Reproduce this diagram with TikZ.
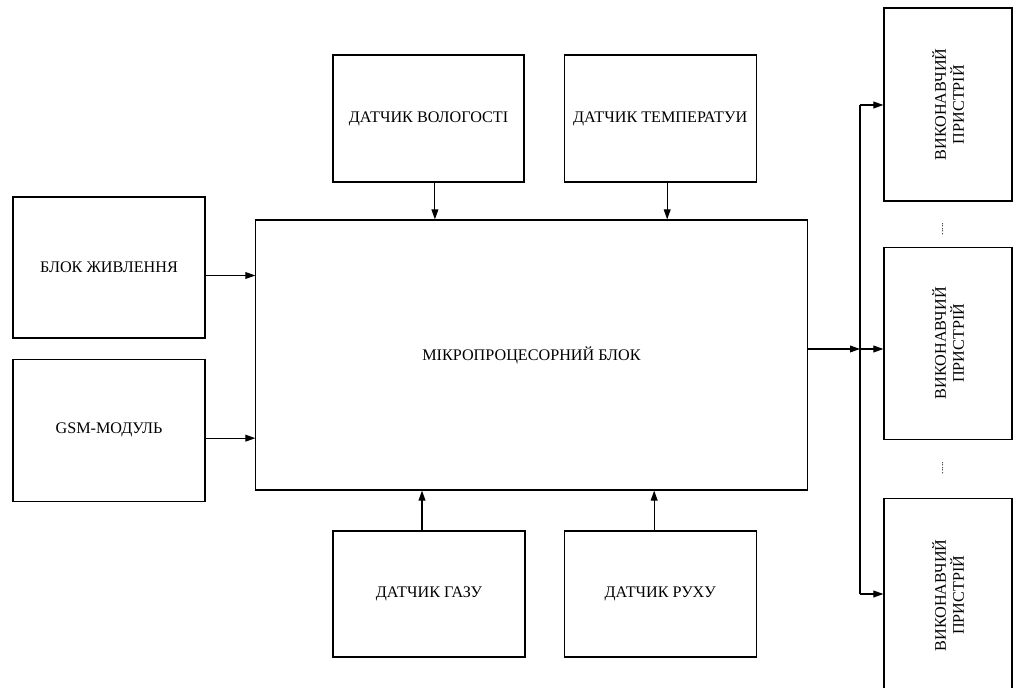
\documentclass[tikz,border=0pt]{standalone}
\usepackage{fontspec}
\setmainfont{Liberation Serif}
\usetikzlibrary{arrows.meta, positioning}

\begin{document}
\begin{tikzpicture}[x=0.025cm, y=-0.025cm,
    every node/.style={font=\fontsize{11.5}{12.8}\selectfont},
    box/.style={draw, rectangle, line width=0.8pt, align=center},
    arr/.style={-{Triangle[length=2.5mm, width=1.7mm]}, line width=0.8pt}]
  \useasboundingbox (0,0) rectangle (1013,688);

  % blocks
  \node (mcu) [box, minimum width=13.775cm, minimum height=6.75cm] at (531.5,355)
  {МІКРОПРОЦЕСОРНИЙ БЛОК};

  \node (power) [box, minimum width=4.8cm, minimum height=3.525cm] at (109,267.5)
  {БЛОК ЖИВЛЕННЯ};

  \node (gsm) [box, below=5mm of power, minimum width=4.8cm, minimum height=3.55cm]
  {GSM-МОДУЛЬ};

  \node (hum) [box, minimum width=4.775cm, minimum height=3.175cm] at (428.5,118.5)
  {ДАТЧИК ВОЛОГОСТІ};

  \node (temp) [box, right=9.75mm of hum, minimum width=4.8cm, minimum height=3.175cm]
  {ДАТЧИК ТЕМПЕРАТУИ};

  \node (gas) [box, minimum width=4.8cm, minimum height=3.15cm] at (429,594)
  {ДАТЧИК ГАЗУ};

  \node (motion) [box, right=9.5mm of gas, minimum width=4.8cm, minimum height=3.15cm]
  {ДАТЧИК РУХУ};

  % actuators
  \node (act1) [box, minimum width=3.2cm, minimum height=4.825cm] at (948,104.5) {};
  \node (act2) [box, below=11.25mm of act1, minimum width=3.2cm, minimum height=4.8cm] {};
  \node (act3) [box, below=14.5mm of act2, minimum width=3.2cm, minimum height=4.85cm] {};

  \node (act1txt) [rotate=90, align=center] at (act1.center) {ВИКОНАВЧИЙ\\ПРИСТРІЙ};
  \node (act2txt) [rotate=90, align=center] at (act2.center) {ВИКОНАВЧИЙ\\ПРИСТРІЙ};
  \node (act3txt) [rotate=90, align=center] at (act3.center) {ВИКОНАВЧИЙ\\ПРИСТРІЙ};

  \node (dots1) [rotate=90, anchor=base, font=\fontsize{7}{8}\selectfont] at (943,229) {.....};
  \node (dots2) [rotate=90, anchor=base, font=\fontsize{7}{8}\selectfont] at (943,468) {.....};

  % arrows
  \draw[arr] ([yshift=-2mm]power.east) coordinate (p1) -- (p1 -| mcu.west);
  \draw[arr] ([yshift=-2mm]gsm.east) coordinate (g1) -- (g1 -| mcu.west);

  \draw[arr] ([xshift=1.6mm]hum.south) coordinate (h1) -- (h1 |- mcu.north);
  \draw[arr] ([xshift=1.75mm]temp.south) coordinate (t1) -- (t1 |- mcu.north);

  \draw[arr] ([xshift=-1.75mm]gas.north) coordinate (s1) -- (s1 |- mcu.south);
  \draw[arr] ([xshift=-1.5mm]motion.north) coordinate (r1) -- (r1 |- mcu.south);

  % bus to actuators
  \coordinate (bustop) at (860,105);
  \coordinate (busbot) at (860,594);
  \draw[line width=0.8pt] (bustop) -- (busbot);

  \draw[arr] ([yshift=1.5mm]mcu.east) coordinate (m1) -- (m1 -| bustop);
  \draw[arr] (m1 -| bustop) -- (m1 -| act2.west);
  \draw[arr] (bustop) -- (bustop -| act1.west);
  \draw[arr] (busbot) -- (busbot -| act3.west);

\end{tikzpicture}
\end{document}
